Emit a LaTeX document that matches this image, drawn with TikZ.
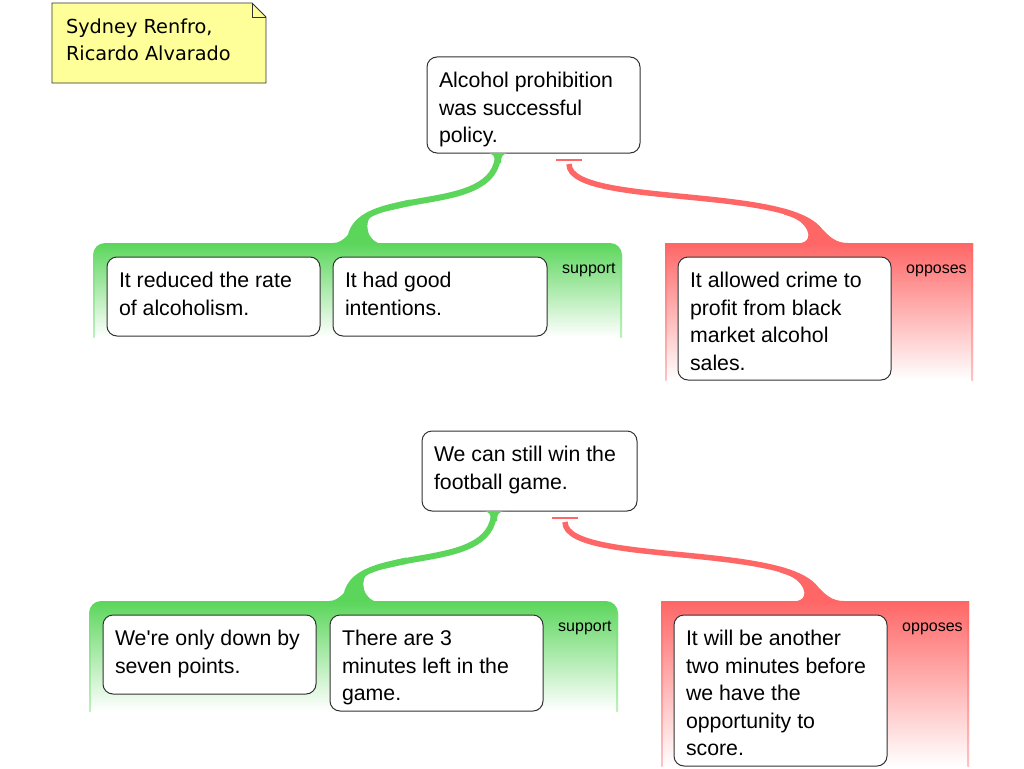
\documentclass[tikz,border=0pt]{standalone}
\usepackage{fontspec}
\setmainfont{Liberation Sans}
\newfontfamily\notefont{DejaVu Sans}
\usetikzlibrary{calc}
\definecolor{gGreen}{RGB}{91,214,91}
\definecolor{rRed}{RGB}{255,102,102}
\definecolor{noteYellow}{RGB}{255,255,153}
\definecolor{edgeGray}{RGB}{50,50,50}
\newcommand\boxtext[3]{\parbox[b][#2pt][t]{#1pt}{\raggedright\fontsize{21.3}{27.5}\selectfont\rule{0pt}{30.5pt}#3}}
\tikzset{
  cbox/.style={draw=edgeGray, line width=1pt, fill=white, rounded corners=10pt,
    inner xsep=12pt, inner ysep=0pt, outer sep=0pt, anchor=north west},
  band/.style={inner sep=0pt, outer sep=0pt, anchor=north west},
  lbl/.style={anchor=base west, inner sep=0pt, font=\fontsize{16}{18}\selectfont},
  gconn/.style={draw=gGreen, line width=6pt},
  rconn/.style={draw=rRed, line width=5.5pt},
  rbar/.style={draw=rRed, line width=1.3pt},
}
\begin{document}
\begin{tikzpicture}[x=1pt,y=-1pt]
\useasboundingbox (0,0) rectangle (1024,768);
\fill[white] (0,0) rectangle (1024,768);

% ---------- note ----------
\filldraw[fill=noteYellow, draw=edgeGray, line width=0.8pt]
  (52,83) -- (52,3) -- (252,3) -- (266,17) -- (266,83) -- cycle;
\draw[edgeGray, line width=0.8pt] (252,3) -- (252,17) -- (266,17);
\node[anchor=north west, inner xsep=14pt, inner ysep=0pt, outer sep=0pt] (note) at (52,3)
  {\parbox[b][80pt][t]{186pt}{\notefont\fontsize{19.3}{27.5}\selectfont\rule{0pt}{30pt}Sydney Renfro,\\Ricardo Alvarado}};

% ---------- bands (positions) ----------
\node[band, minimum width=529pt, minimum height=94pt]  (supA) at (93,243) {};
\node[band, minimum width=308pt, minimum height=137pt] (oppA) at (665,243) {};
\node[band, minimum width=529pt, minimum height=110pt] (supB) at (89,601) {};
\node[band, minimum width=308pt, minimum height=165pt] (oppB) at (661,601) {};

% shaded bands
\foreach \b in {supA,supB}{
  \shade[top color=gGreen, bottom color=white]
    (\b.south west) [rounded corners=12pt] -- (\b.north west) -- (\b.north east) [sharp corners] -- (\b.south east) -- cycle;
  \shade[top color=gGreen!85!white, bottom color=gGreen!40!white]
    ($(\b.south west)$) rectangle ($(\b.north west)+(1.6,12)$);
  \shade[top color=gGreen!85!white, bottom color=gGreen!40!white]
    ($(\b.south east)+(-1.6,0)$) rectangle ($(\b.north east)+(0,12)$);
}
\foreach \b in {oppA,oppB}{
  \shade[top color=rRed, bottom color=white] (\b.south west) rectangle (\b.north east);
  \shade[top color=rRed, bottom color=rRed!40!white]
    (\b.south west) rectangle ($(\b.north west)+(1.6,0)$);
  \shade[top color=rRed, bottom color=rRed!40!white]
    ($(\b.south east)+(-1.6,0)$) rectangle (\b.north east);
}

% ---------- claim nodes ----------
\node[cbox] (claimA) at (427,57) {\boxtext{189}{96}{Alcohol prohibition\\was successful\\policy.}};
\node[cbox] (claimB) at (422,431) {\boxtext{191}{80}{We can still win the\\football game.}};

% ---------- connector coordinates ----------
\foreach \s in {A,B}{
  \coordinate (gS\s) at ($(claim\s.south)+(-35.5,0)$);
  \coordinate (gE\s) at ($(sup\s.north west)+(257,0)$);
  \coordinate (rB1\s) at ($(claim\s.south)+(22.5,7)$);
  \coordinate (rB2\s) at ($(claim\s.south)+(48.5,7)$);
  \coordinate (rS\s) at ($(claim\s.south)+(35.5,11)$);
  \coordinate (rE\s) at ($(opp\s.north west)+(159,0)$);
}
\foreach \s in {A,B}{
  % support connector
  \draw[gconn] (gS\s) .. controls ($(gS\s)+(0,67.5)$) and ($(gE\s)+(0,-61)$) .. (gE\s);
  \fill[gGreen, shift={(gS\s)}] (-12,0) .. controls (-4,0) and (-3,4) .. (-3,10) -- (3,10)
     .. controls (3,4) and (4,0) .. (12,0) -- cycle;
  \fill[gGreen, shift={(gE\s)}] (60,-43.5) .. controls (35,-38) and (15,-30) .. (5,-18)
     .. controls (1,-12) and (-6,0) .. (-17,0) -- (28,0)
     .. controls (20,-4) and (17,-10) .. (17.5,-19)
     .. controls (18,-28) and (28,-31) .. (37,-32)
     .. controls (45,-33.5) and (52,-35.5) .. (60,-37) -- cycle;
  % opposes connector
  \draw[rbar] (rB1\s) -- (rB2\s);
  \draw[rconn] (rS\s) .. controls ($(rS\s)+(0,46)$) and ($(rE\s)+(0,-61)$) .. (rE\s);
  \fill[rRed, shift={(rE\s)}] (-40,-34.3) .. controls (-25,-30.5) and (-10,-22) .. (-1,-13)
     .. controls (6,-6) and (12,0) .. (24,0) -- (-23,0)
     .. controls (-18,-1) and (-15,-4) .. (-15.7,-9)
     .. controls (-16.5,-15) and (-22,-21) .. (-28,-24)
     .. controls (-32,-26) and (-36,-27.3) .. (-40,-28.5) -- cycle;
}

% ---------- child nodes ----------
\node[cbox] (c1a) at (107,257) {\boxtext{189}{79}{It reduced the rate\\of alcoholism.}};
\node[cbox] (c1b) at (333,257) {\boxtext{190}{79}{It had good\\intentions.}};
\node[cbox] (o1)  at (678,257) {\boxtext{189}{123}{It allowed crime to\\profit from black\\market alcohol\\sales.}};

\node[cbox] (c2a) at (103,615) {\boxtext{189}{79}{We\textquotesingle re only down by\\seven points.}};
\node[cbox] (c2b) at (330,615) {\boxtext{189}{96}{There are 3\\minutes left in the\\game.}};
\node[cbox] (o2)  at (674,615) {\boxtext{189}{151}{It will be another\\two minutes before\\we have the\\opportunity to\\score.}};

% ---------- labels ----------
\node[lbl] (lsA) at (562,273) {support};
\node[lbl] (loA) at (906,273) {opposes};
\node[lbl] (lsB) at (558,631) {support};
\node[lbl] (loB) at (902,631) {opposes};
\end{tikzpicture}
\end{document}
